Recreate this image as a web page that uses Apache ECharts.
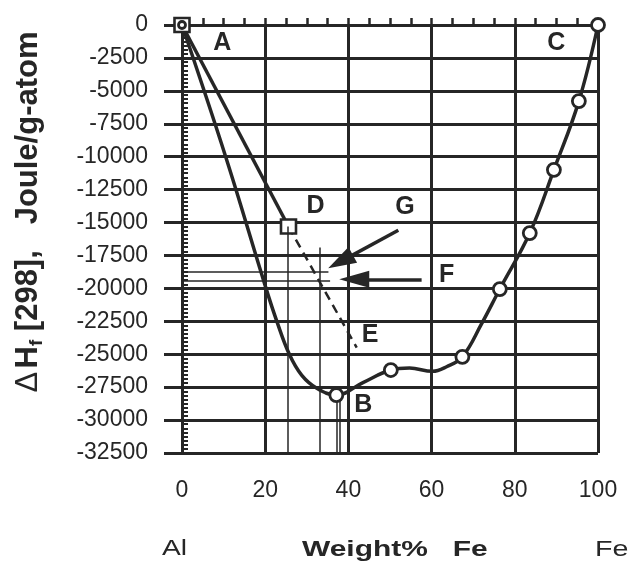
<!DOCTYPE html>
<html>
<head>
<meta charset="utf-8">
<script src="https://cdn.jsdelivr.net/npm/echarts@6/dist/echarts.min.js"></script>
<style>
  html, body { margin: 0; background: #fff; }
  #chart { width: 628px; height: 565px; }
</style>
</head>
<body>
<div id="chart"></div>
<script>
const ink = "#262626";
const font = "Liberation Sans, Arial, Helvetica, sans-serif";

// curve A - B - C (wt% Fe, J/g-atom)
const curveX = [0, 10.5, 20.2, 22.8, 25.8, 28.8, 32.5, 37.1, 43.5, 50.2, 54.7, 60.2, 63.6, 67.4, 72.0, 76.4, 83.6, 89.4, 95.4, 100];
const curveY = [0, -10000, -20000, -22500, -25000, -26600, -27600, -28100, -27150, -26200, -26050, -26300, -25950, -25200, -22700, -20050, -15800, -11000, -5780, 0];

// open circles on the curve
const circleX = [0, 37.1, 50.2, 67.4, 76.4, 83.6, 89.4, 95.4, 100];
const circleY = [0, -28100, -26200, -25200, -20050, -15800, -11000, -5780, 0];

// squares A and D, line A-D and dashed D-E
const squareX = [0, 25.6];
const squareY = [0, -15300];
const dashX = [25.6, 42];
const dashY = [-15300, -24500];

// thin guide lines
const guideVX = [25.5, 33, 37.3, 38.0];
const guideVTop = [-15300, -16900, -28100, -28100];
const guideHY = [-18740, -19430];
const guideHEnd = [35.2, 35.6];

// arrows G and F (start, head centre)
const arrowG = [[52.0, -15580], [38.1, -17970]];
const arrowF = [[57.6, -19310], [41.4, -19310]];

// letters
const letterText = ["A", "B", "C", "D", "E", "F", "G"];
const letterX = [9.7, 43.6, 90.0, 32.1, 45.2, 63.6, 53.6];
const letterY = [-1380, -28860, -1390, -13720, -23540, -18980, -13800];

const xMin = 0, xMax = 100, xStep = 20;
const yMin = -32500, yMax = 0, yStep = 2500;

const zip = (a, b) => a.map((v, i) => [v, b[i]]);

const chart = echarts.init(document.getElementById("chart"));

const gridBox = { left: 182, right: 30, top: 25, bottom: 112 };

const option = {
  animation: false,
  backgroundColor: "#fff",
  grid: [Object.assign({}, gridBox), Object.assign({}, gridBox)],
  xAxis: [
    {
      type: "value",
      gridIndex: 0,
      min: xMin,
      max: xMax,
      interval: xStep,
      axisLine: { show: true, lineStyle: { color: ink, width: 3 } },
      axisTick: { show: true, length: 17, lineStyle: { color: ink, width: 3 } },
      splitLine: { show: true, lineStyle: { color: ink, width: 3 } },
      axisLabel: { color: ink, fontSize: 23, fontFamily: font, margin: 26 },
    },
    {
      // minor ticks pointing into the plot
      type: "value",
      gridIndex: 1,
      min: xMin,
      max: xMax,
      interval: 5,
      axisLine: { show: false },
      axisTick: { show: true, inside: true, length: 7, lineStyle: { color: ink, width: 2.5 } },
      splitLine: { show: false },
      axisLabel: { show: false },
    },
  ],
  yAxis: [
    {
      type: "value",
      gridIndex: 0,
      min: yMin,
      max: yMax,
      interval: yStep,
      axisLine: { show: true, lineStyle: { color: ink, width: 3 } },
      axisTick: { show: true, length: 18, lineStyle: { color: ink, width: 3 } },
      splitLine: { show: true, lineStyle: { color: ink, width: 3 } },
      axisLabel: {
        color: ink,
        fontSize: 23,
        fontFamily: font,
        margin: 34,
        formatter: (v) => String(v),
      },
    },
    {
      type: "value",
      gridIndex: 1,
      min: yMin,
      max: yMax,
      interval: yStep / 8,
      axisLine: { show: false },
      axisTick: { show: true, inside: true, length: 6, lineStyle: { color: ink, width: 2 } },
      splitLine: { show: false },
      axisLabel: { show: false },
    },
  ],
  graphic: [
    {
      type: "text",
      x: 28,
      y: 212,
      rotation: Math.PI / 2,
      style: {
        text: "{d|Δ} {b|H}{s|f}{b| [298],   Joule/g-atom}",
        align: "center",
        verticalAlign: "middle",
        fill: ink,
        rich: {
          d: { fontSize: 31, fontFamily: font, fill: ink, lineHeight: 36 },
          b: { fontSize: 31, fontWeight: "bold", fontFamily: font, fill: ink, lineHeight: 36 },
          s: { fontSize: 19, fontWeight: "bold", fontFamily: font, fill: ink, lineHeight: 20, verticalAlign: "bottom" },
        },
      },
    },
    {
      type: "text",
      x: 162,
      y: 549,
      scaleX: 1.28,
      style: { text: "Al", font: "22px " + font, fill: ink, verticalAlign: "middle" },
    },
    {
      type: "text",
      x: 302,
      y: 550,
      scaleX: 1.36,
      style: { text: "Weight%   Fe", font: "bold 22px " + font, fill: ink, verticalAlign: "middle" },
    },
    {
      type: "text",
      x: 595,
      y: 550,
      scaleX: 1.3,
      style: { text: "Fe", font: "22px " + font, fill: ink, verticalAlign: "middle" },
    },
  ],
  series: [
    {
      type: "line",
      data: zip(curveX, curveY),
      smooth: 0.4,
      symbol: "none",
      lineStyle: { color: ink, width: 3.5 },
      z: 3,
    },
    {
      type: "line",
      data: zip(squareX, squareY),
      symbol: "none",
      lineStyle: { color: ink, width: 3.5 },
      z: 3,
    },
    {
      type: "line",
      data: zip(dashX, dashY),
      symbol: "none",
      lineStyle: { color: ink, width: 2.5, type: [9, 6] },
      z: 3,
    },
    {
      type: "line",
      data: [],
      markLine: {
        silent: true,
        symbol: "none",
        label: { show: false },
        lineStyle: { color: ink, width: 1.5, type: "solid" },
        data: guideVX
          .map((x, i) => [{ coord: [x, guideVTop[i]] }, { coord: [x, yMin] }])
          .concat(guideHY.map((y, i) => [{ coord: [0, y] }, { coord: [guideHEnd[i], y] }])),
      },
    },
    {
      type: "line",
      data: [],
      markLine: {
        silent: true,
        symbol: ["none", "triangle"],
        symbolSize: [17, 30],
        label: { show: false },
        lineStyle: { color: ink, width: 3.5, type: "solid" },
        data: [
          [{ coord: arrowG[0] }, { coord: arrowG[1], symbolSize: [18, 28] }],
          [{ coord: arrowF[0] }, { coord: arrowF[1] }],
        ],
      },
    },
    {
      type: "scatter",
      data: zip(squareX, squareY),
      symbol: "rect",
      symbolSize: [15, 14],
      itemStyle: { color: "#fff", borderColor: ink, borderWidth: 2.5, opacity: 1 },
      z: 4,
    },
    {
      type: "scatter",
      data: zip(circleX, circleY),
      symbol: "circle",
      symbolSize: (v, p) => (p.dataIndex === 0 ? 7 : 13),
      itemStyle: { color: "#fff", borderColor: ink, borderWidth: 2.8, opacity: 1 },
      z: 5,
    },
    {
      type: "scatter",
      data: letterX.map((x, i) => ({ value: [x, letterY[i]], name: letterText[i] })),
      symbolSize: 1,
      itemStyle: { color: "rgba(0,0,0,0)", opacity: 1 },
      label: {
        show: true,
        position: "inside",
        formatter: (p) => p.name,
        color: ink,
        opacity: 1,
        fontSize: 25,
        fontWeight: "bold",
        fontFamily: font,
      },
      z: 6,
    },
  ],
};

chart.setOption(option);
window.addEventListener("resize", () => chart.resize());
</script>
</body>
</html>
